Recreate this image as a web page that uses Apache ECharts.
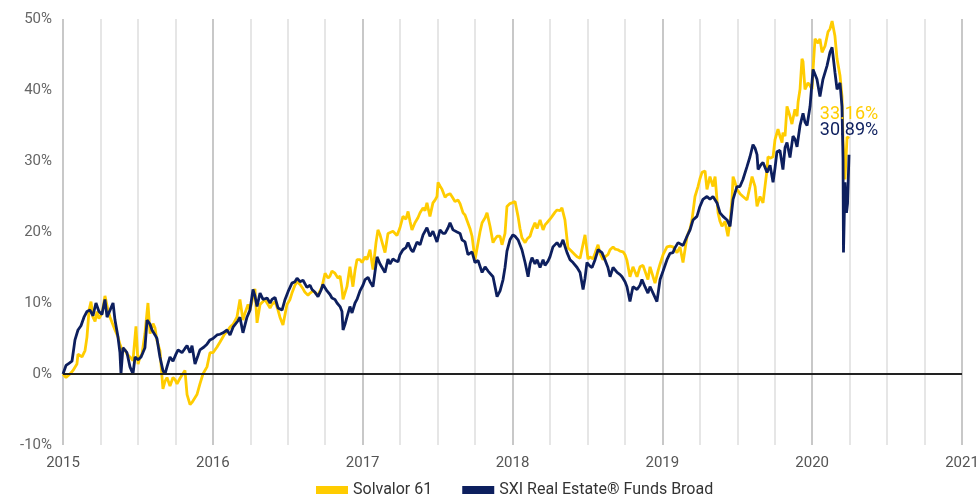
<!DOCTYPE html>
<html>
<head>
<meta charset="utf-8">
<script src="https://cdn.jsdelivr.net/npm/echarts@6/dist/echarts.min.js"></script>
<style>
html,body{margin:0;padding:0;background:#fff;}
#chart{width:977px;height:499px;}
</style>
</head>
<body>
<div id="chart"></div>
<script>
// Dates expressed as decimal years
const solvalorYears = [
2015.000,2015.020,2015.047,2015.067,2015.093,2015.100,2015.127,2015.147,2015.160,2015.174,2015.187,2015.200,2015.214,2015.227,2015.240,2015.260,2015.280,2015.300,2015.314,2015.327,2015.347,2015.367,2015.380,2015.394,2015.414,2015.427,2015.447,2015.467,2015.487,2015.501,2015.514,2015.527,2015.547,2015.567,2015.581,2015.601,2015.614,2015.627,2015.647,2015.667,2015.681,2015.694,2015.714,2015.734,2015.748,2015.761,2015.781,2015.794,2015.814,2015.828,2015.848,2015.861,2015.868,2015.894,2015.914,2015.934,2015.961,2015.981,
2016.001,2016.028,2016.048,2016.075,2016.095,2016.115,2016.135,2016.161,2016.181,2016.201,2016.215,2016.235,2016.248,2016.268,2016.281,2016.295,2016.315,2016.328,2016.348,2016.382,2016.395,2016.415,2016.435,2016.448,2016.468,2016.495,2016.515,2016.528,2016.548,2016.562,2016.582,2016.602,2016.615,2016.635,2016.649,2016.669,2016.702,2016.729,2016.749,2016.769,2016.782,2016.795,2016.815,2016.835,2016.849,2016.862,2016.869,2016.895,2016.915,2016.935,2016.949,2016.962,2016.982,2016.996,
2017.016,2017.029,2017.049,2017.069,2017.089,2017.102,2017.116,2017.129,2017.149,2017.169,2017.182,2017.202,2017.229,2017.249,2017.269,2017.289,2017.303,2017.316,2017.329,2017.349,2017.369,2017.383,2017.403,2017.416,2017.429,2017.449,2017.469,2017.483,2017.496,2017.503,2017.516,2017.530,2017.550,2017.563,2017.583,2017.596,2017.616,2017.636,2017.650,2017.670,2017.683,2017.696,2017.716,2017.730,2017.750,2017.770,2017.783,2017.797,2017.817,2017.830,2017.850,2017.870,2017.883,2017.897,2017.917,2017.930,2017.950,2017.963,2017.983,2017.997,
2018.017,2018.037,2018.050,2018.063,2018.084,2018.097,2018.117,2018.130,2018.150,2018.164,2018.184,2018.204,2018.217,2018.230,2018.250,2018.264,2018.284,2018.297,2018.317,2018.330,2018.350,2018.370,2018.384,2018.397,2018.417,2018.431,2018.451,2018.464,2018.484,2018.504,2018.517,2018.537,2018.551,2018.571,2018.584,2018.604,2018.617,2018.637,2018.651,2018.671,2018.684,2018.704,2018.718,2018.738,2018.751,2018.764,2018.784,2018.804,2018.831,2018.851,2018.871,2018.884,2018.904,2018.918,2018.931,2018.951,2018.971,2018.985,
2019.005,2019.031,2019.051,2019.071,2019.098,2019.118,2019.138,2019.165,2019.185,2019.198,2019.218,2019.238,2019.251,2019.265,2019.285,2019.298,2019.318,2019.338,2019.352,2019.372,2019.385,2019.398,2019.418,2019.438,2019.452,2019.465,2019.472,2019.485,2019.498,2019.518,2019.538,2019.565,2019.585,2019.599,2019.619,2019.632,2019.652,2019.672,2019.685,2019.699,2019.705,2019.719,2019.732,2019.739,2019.752,2019.772,2019.785,2019.799,2019.805,2019.819,2019.832,2019.852,2019.865,2019.885,2019.899,2019.906,2019.919,2019.932,2019.939,2019.952,2019.972,2019.986,2019.999,
2020.006,2020.019,2020.039,2020.052,2020.066,2020.086,2020.106,2020.119,2020.133,2020.152,2020.166,2020.186,2020.199,2020.206,2020.219,2020.233,2020.246
];
const solvalorValues = [
0,-0.5,0,0.5,1.4,2.8,2.4,3.3,5.2,9.0,10.2,8.0,7.4,8.8,7.8,8.5,11.0,9.0,8.0,7.8,6.2,5.2,4.2,3.4,3.4,2.8,2.4,1.9,6.7,1.4,2.4,2.8,5.7,10.0,5.7,7.1,6.5,4.7,3.3,-2.1,-1.0,-0.5,-1.7,-0.5,-0.8,-1.4,-0.6,-0.5,0.5,-2.9,-4.3,-4.0,-3.8,-2.9,-1.4,0.0,1.0,3.0,
3.0,3.8,4.5,5.5,6.0,6.6,7.0,8.0,10.5,7.6,8.6,9.8,9.0,10.9,12.0,7.2,9.8,10.0,10.5,9.3,9.8,10.2,9.0,8.0,6.9,9.8,10.5,11.4,12.5,13.0,12.6,12.0,11.5,11.1,11.4,11.7,11.1,12.3,14.2,13.5,13.8,14.5,14.2,13.5,13.8,12.0,10.5,12.3,15.1,12.3,14.6,16.1,16.1,15.7,
16.5,16.1,17.5,14.7,18.5,20.3,19.6,19.4,17.1,19.8,19.8,20.1,19.5,20.6,22.2,21.8,22.9,21.5,20.3,21.3,22.0,22.7,23.4,23.0,24.1,22.2,24.1,24.5,25.0,27.0,26.5,26.0,24.9,25.2,25.4,25.0,24.3,24.5,24.0,22.7,22.4,22.2,20.5,19.4,16.1,18.5,20.0,21.3,22.0,22.7,20.8,18.5,19.0,19.4,19.4,18.2,19.8,23.6,24.0,24.1,
24.3,22.2,20.5,19.2,18.5,19.0,19.4,20.3,21.3,20.5,21.7,20.3,21.0,21.3,21.8,22.2,22.8,23.1,23.0,23.4,21.7,17.8,17.5,17.3,16.8,16.5,16.3,16.1,19.6,16.2,16.5,16.2,17.0,18.2,17.0,16.1,16.5,16.8,17.5,17.9,17.6,17.5,17.3,17.2,16.8,16.0,13.7,15.1,13.7,15.1,15.3,15.5,13.3,15.1,15.0,12.8,14.5,15.5,
16.8,17.9,18.0,17.9,17.1,17.9,15.7,19.4,20.5,21.7,25.0,26.4,27.5,28.4,28.6,26.0,27.8,26.4,27.8,22.7,21.5,20.8,21.5,19.4,21.5,24.6,27.8,27.0,26.0,25.4,25.0,24.5,26.4,27.8,26.4,23.6,25.0,24.1,26.4,28.8,30.6,30.4,30.2,30.6,33.0,34.5,33.5,32.6,34.0,33.5,37.7,36.3,35.2,37.3,36.3,38.3,40.1,44.4,44.0,40.1,41.0,40.6,40.1,
42.9,47.2,46.6,47.2,45.3,46.2,48.2,48.6,49.7,47.6,44.4,42.0,39.1,33.0,27.4,33.4,33.16
];
const sxiYears = [
2015.000,2015.020,2015.040,2015.060,2015.080,2015.100,2015.120,2015.140,2015.160,2015.180,2015.200,2015.220,2015.240,2015.260,2015.280,2015.294,2015.314,2015.334,2015.347,2015.367,2015.380,2015.387,2015.400,2015.427,2015.447,2015.467,2015.481,2015.501,2015.521,2015.547,2015.561,2015.581,2015.594,2015.614,2015.627,2015.647,2015.667,2015.681,2015.694,2015.714,2015.734,2015.754,2015.768,2015.794,2015.814,2015.828,2015.848,2015.861,2015.881,2015.901,2015.914,2015.941,2015.961,2015.981,
2016.001,2016.028,2016.048,2016.068,2016.095,2016.115,2016.135,2016.148,2016.168,2016.181,2016.201,2016.228,2016.248,2016.268,2016.281,2016.295,2016.315,2016.335,2016.362,2016.382,2016.395,2016.415,2016.435,2016.462,2016.482,2016.502,2016.528,2016.548,2016.562,2016.582,2016.602,2016.628,2016.649,2016.662,2016.682,2016.702,2016.722,2016.735,2016.762,2016.782,2016.795,2016.815,2016.829,2016.849,2016.862,2016.869,2016.882,2016.895,2016.915,2016.929,2016.949,2016.962,2016.982,
2017.002,2017.016,2017.036,2017.049,2017.069,2017.096,2017.116,2017.129,2017.149,2017.169,2017.182,2017.202,2017.216,2017.236,2017.249,2017.269,2017.289,2017.303,2017.323,2017.336,2017.363,2017.383,2017.403,2017.429,2017.449,2017.469,2017.496,2017.516,2017.536,2017.550,2017.570,2017.583,2017.603,2017.630,2017.650,2017.663,2017.683,2017.703,2017.730,2017.750,2017.770,2017.797,2017.817,2017.837,2017.850,2017.870,2017.897,2017.917,2017.937,2017.950,2017.963,2017.983,
2018.003,2018.017,2018.037,2018.050,2018.063,2018.084,2018.104,2018.117,2018.130,2018.150,2018.164,2018.184,2018.204,2018.217,2018.237,2018.250,2018.270,2018.297,2018.317,2018.337,2018.350,2018.364,2018.384,2018.404,2018.431,2018.451,2018.471,2018.484,2018.497,2018.517,2018.531,2018.551,2018.571,2018.597,2018.617,2018.637,2018.651,2018.671,2018.698,2018.718,2018.731,2018.751,2018.764,2018.784,2018.804,2018.831,2018.851,2018.864,2018.884,2018.904,2018.918,2018.938,2018.951,2018.964,2018.985,
2019.005,2019.031,2019.051,2019.071,2019.085,2019.105,2019.118,2019.138,2019.165,2019.185,2019.205,2019.231,2019.251,2019.271,2019.298,2019.318,2019.338,2019.365,2019.385,2019.405,2019.432,2019.452,2019.472,2019.498,2019.518,2019.538,2019.565,2019.585,2019.605,2019.619,2019.632,2019.639,2019.659,2019.672,2019.699,2019.719,2019.739,2019.752,2019.765,2019.785,2019.805,2019.819,2019.832,2019.852,2019.872,2019.885,2019.899,2019.919,2019.939,2019.952,2019.966,2019.986,
2020.006,2020.032,2020.052,2020.072,2020.099,2020.119,2020.133,2020.152,2020.166,2020.186,2020.199,2020.206,2020.209,2020.219,2020.229,2020.236,2020.246
];
const sxiValues = [
0,1.2,1.5,1.8,4.8,6.2,6.8,8.0,8.8,9.0,8.2,10.0,8.8,8.4,10.5,8.0,9.0,10.0,7.6,5.2,3.0,0.0,3.7,3.0,1.0,0.0,2.4,2.0,2.4,3.7,7.6,7.0,6.2,5.5,5.0,2.4,0.5,0.0,1.0,2.4,1.8,2.8,3.4,3.0,3.6,4.0,3.0,4.0,1.4,2.6,3.4,3.8,4.2,4.8,
5.0,5.5,5.6,5.8,6.2,5.5,6.6,6.6,7.5,8.0,5.8,8.0,9.0,11.9,11.0,9.5,11.4,10.5,10.7,10.0,10.5,10.8,9.3,9.0,10.5,11.6,12.8,13.0,13.5,13.0,13.2,12.2,12.5,11.9,11.5,10.9,11.8,12.6,11.7,11.2,10.7,10.5,10.0,9.5,8.8,6.2,7.0,8.0,9.5,8.6,10.0,10.5,11.7,
12.5,13.3,13.6,13.0,12.3,16.5,15.5,15.7,14.3,16.2,15.5,16.2,16.0,15.8,16.8,17.5,17.8,18.5,17.5,17.2,18.6,18.2,19.6,20.6,19.4,20.1,18.6,20.3,19.8,19.8,20.6,21.3,20.3,20.0,19.8,18.9,18.6,16.8,17.2,15.7,16.0,14.3,15.1,14.5,14.6,13.7,10.9,11.7,13.3,15.0,17.3,18.9,
19.6,19.4,18.9,18.2,17.5,15.7,13.7,15.5,16.4,15.5,16.1,15.0,16.1,15.3,15.9,16.5,17.9,18.5,17.9,18.9,18.0,17.1,16.1,15.7,15.0,14.3,11.9,13.5,15.7,15.2,15.0,16.1,17.5,17.1,16.1,15.0,13.7,15.0,14.3,14.0,13.7,13.0,12.3,10.2,12.3,11.9,12.5,13.3,12.3,11.4,12.3,11.4,11.4,10.2,13.3,
14.5,16.1,17.0,17.1,17.8,18.5,18.3,18.1,19.4,20.3,21.7,22.2,23.6,24.6,25.0,24.6,25.0,24.1,22.7,22.2,21.7,20.8,24.6,26.4,26.4,27.4,29.2,30.6,32.3,31.8,30.9,28.8,29.5,29.8,28.4,29.4,27.0,29.0,31.3,31.5,28.8,31.9,32.6,30.5,33.5,33.1,32.0,35.0,36.7,35.5,35.0,37.7,
42.9,41.5,39.1,41.5,43.4,45.3,46.0,42.5,40.1,41.0,37.7,30.2,17.1,27.0,22.7,24.0,30.89
];
const seriesNames = ['Solvalor 61', 'SXI Real Estate® Funds Broad'];
const seriesColors = ['#FFCC00', '#0D1F5E'];
const yearRange = [2015, 2021];
const valueRange = [-10, 50];

function pairs(xs, ys) { return xs.map((x, i) => [x, ys[i]]); }

const chart = echarts.init(document.getElementById('chart'), null, {renderer: 'canvas'});
const FONT = 'Roboto, "Noto Sans", sans-serif';

function endMark(xs, ys, color) {
  const n = xs.length - 1;
  return {
    symbol: 'circle', symbolSize: 0, silent: true,
    label: {
      show: true, position: 'top', distance: 15,
      color: color, fontSize: 18, fontFamily: FONT,
      formatter: ys[n].toFixed(2) + '%'
    },
    data: [{coord: [xs[n], ys[n]]}]
  };
}

chart.setOption({
  animation: false,
  backgroundColor: '#ffffff',
  grid: {left: 63, right: 15, top: 19, bottom: 54, containLabel: false, outerBoundsMode: 'none'},
  legend: {
    data: seriesNames,
    left: 311, top: 477,
    itemWidth: 32, itemHeight: 8, itemGap: 30,
    icon: 'rect',
    textStyle: {color: '#333', fontSize: 16, fontFamily: FONT}
  },
  xAxis: {
    type: 'value', min: yearRange[0], max: yearRange[1], interval: 0.25,
    axisLine: {show: false}, axisTick: {show: false},
    axisLabel: {
      color: '#555', fontSize: 15, fontFamily: FONT, margin: 11,
      formatter: v => (Math.abs(v - Math.round(v)) < 1e-6 ? String(Math.round(v)) : '')
    },
    splitLine: {show: true, lineStyle: {color: ['#c8c8c8', '#e6e6e6', '#e6e6e6', '#e6e6e6'], width: 2}}
  },
  yAxis: {
    type: 'value', min: valueRange[0], max: valueRange[1], interval: 10,
    axisLine: {show: false}, axisTick: {show: false},
    splitLine: {show: false},
    axisLabel: {color: '#666', fontSize: 15, fontFamily: FONT, margin: 11, formatter: '{value}%'}
  },
  series: [
    {
      name: 'zero', type: 'line', data: [], silent: true,
      markLine: {
        silent: true, symbol: 'none', label: {show: false},
        lineStyle: {color: '#222', width: 2, type: 'solid'},
        data: [{yAxis: 0}]
      }
    },
    {
      name: seriesNames[0], type: 'line', showSymbol: false,
      data: pairs(solvalorYears, solvalorValues),
      color: seriesColors[0],
      lineStyle: {color: seriesColors[0], width: 2.8},
      markPoint: endMark(solvalorYears, solvalorValues, seriesColors[0])
    },
    {
      name: seriesNames[1], type: 'line', showSymbol: false,
      data: pairs(sxiYears, sxiValues),
      color: seriesColors[1],
      lineStyle: {color: seriesColors[1], width: 2.8},
      markPoint: endMark(sxiYears, sxiValues, seriesColors[1])
    }
  ]
});
</script>
</body>
</html>
